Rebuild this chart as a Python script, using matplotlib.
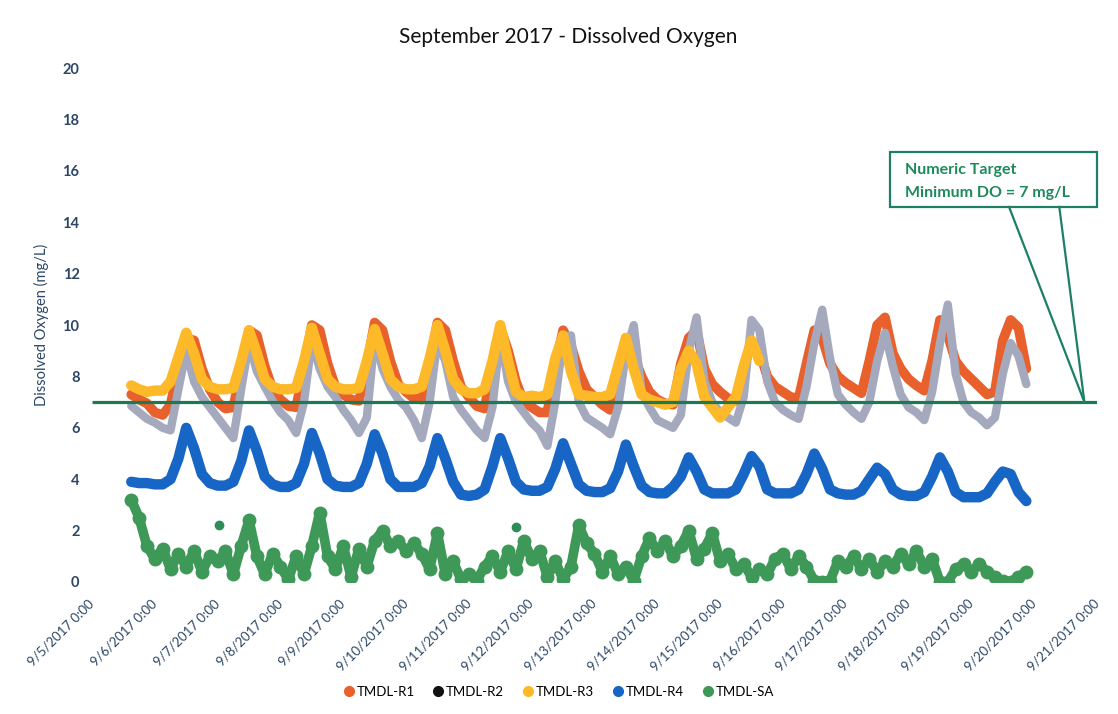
import matplotlib
matplotlib.use("Agg")
import matplotlib.pyplot as plt
import matplotlib.dates as mdates
from matplotlib.lines import Line2D
from matplotlib.patches import Rectangle
import pandas as pd

plt.rcParams["font.family"] = ["Lato", "DejaVu Sans"]

# 3-hourly sonde readings, 9/5/2017 15:00 through 9/19/2017 21:00
times = pd.date_range("2017-09-05 15:00", "2017-09-19 21:00", freq="3h")

r1 = [7.3, 7.1, 6.95,
      6.6, 6.5, 6.9, 8.3, 9.5, 9.4, 8.3, 7.5,
      7.0, 6.75, 6.8, 8.3, 9.8, 9.6, 8.4, 7.5,
      7.1, 6.85, 6.8, 8.3, 10.0, 9.8, 8.5, 7.6,
      7.3, 7.1, 7.05, 8.4, 10.1, 9.8, 8.6, 7.7,
      7.4, 7.15, 7.1, 8.5, 10.1, 9.8, 8.6, 7.6,
      7.2, 6.85, 6.75, 8.4, 9.9, 9.0, 7.8, 7.0,
      6.8, 6.6, 6.6, 8.4, 9.8, 9.2, 8.2, 7.5,
      7.2, 6.9, 6.7, 8.2, 9.5, 8.8, 8.0, 7.4,
      7.1, 6.95, 6.9, 8.5, 9.5, 9.8, 8.3, 7.7,
      7.4, 7.15, 7.05, 8.3, 9.4, 9.0, 8.0, 7.6,
      7.4, 7.2, 7.15, 8.5, 9.8, 9.5, 8.5, 8.0,
      7.75, 7.55, 7.35, 8.6, 10.0, 10.3, 8.9, 8.3,
      7.9, 7.65, 7.45, 8.6, 10.2, 9.6, 8.6, 8.2,
      7.9, 7.6, 7.3, 7.4, 9.4, 10.2, 9.9, 8.3]

r2 = [6.85, 6.6, 6.35,
      6.2, 6.0, 5.9, 7.5, 9.0, 7.8, 7.2, 6.8,
      6.4, 6.0, 5.6, 7.5, 9.3, 8.2, 7.6, 7.05,
      6.6, 6.3, 5.8, 7.0, 9.4, 8.3, 7.6, 7.2,
      6.7, 6.3, 5.8, 6.4, 9.5, 8.3, 7.6, 7.1,
      6.8, 6.3, 5.6, 7.0, 9.4, 8.6, 7.2, 6.7,
      6.3, 5.9, 5.6, 6.8, 9.6, 7.8, 7.0, 6.6,
      6.2, 5.9, 5.3, 7.0, 9.5, 9.6, 7.0, 6.4,
      6.2, 6.0, 5.75, 6.8, 8.9, 10.0, 7.4, 6.8,
      6.3, 6.15, 6.0, 6.5, 9.0, 10.3, 7.8, 7.0,
      6.6, 6.4, 6.2, 7.2, 10.2, 9.8, 7.8, 7.0,
      6.7, 6.5, 6.35, 7.6, 9.3, 10.6, 8.7, 7.3,
      6.9, 6.6, 6.35, 7.0, 8.6, 9.7, 8.4, 7.3,
      6.8, 6.6, 6.3, 7.4, 9.3, 10.8, 8.1, 7.0,
      6.6, 6.4, 6.1, 6.4, 8.1, 9.3, 8.8, 7.7]

# R3 stopped logging on 9/15 15:00
r3 = [7.65, 7.5, 7.4,
      7.45, 7.45, 7.8, 8.75, 9.7, 8.9, 7.9, 7.6,
      7.5, 7.5, 7.55, 8.6, 9.8, 8.9, 7.9, 7.6,
      7.5, 7.5, 7.55, 8.6, 9.9, 8.9, 7.9, 7.6,
      7.5, 7.5, 7.55, 8.6, 9.85, 8.9, 7.9, 7.6,
      7.5, 7.5, 7.6, 8.7, 10.0, 9.0, 7.9, 7.5,
      7.35, 7.35, 7.5, 8.6, 10.0, 8.6, 7.4, 7.2,
      7.25, 7.2, 7.3, 8.7, 9.6, 8.2, 7.3, 7.25,
      7.2, 7.2, 7.3, 8.4, 9.5, 8.3, 7.3, 7.1,
      7.0, 6.9, 7.0, 8.3, 9.0, 8.5, 7.2, 6.8,
      6.4, 6.8, 7.2, 8.4, 9.4, 8.6]

r4 = [3.9, 3.85, 3.85,
      3.8, 3.8, 4.0, 4.8, 6.0, 5.2, 4.2, 3.85,
      3.75, 3.75, 3.9, 4.7, 5.9, 5.1, 4.1, 3.8,
      3.7, 3.7, 3.85, 4.6, 5.8, 5.0, 4.0, 3.75,
      3.7, 3.7, 3.85, 4.6, 5.75, 5.0, 4.0, 3.7,
      3.7, 3.7, 3.85, 4.5, 5.6, 4.8, 3.9, 3.4,
      3.35, 3.4, 3.6, 4.5, 5.6, 4.8, 3.9, 3.6,
      3.55, 3.55, 3.7, 4.4, 5.4, 4.6, 3.8, 3.55,
      3.5, 3.5, 3.65, 4.3, 5.35, 4.5, 3.75, 3.5,
      3.45, 3.45, 3.7, 4.1, 4.85, 4.3, 3.6, 3.45,
      3.45, 3.45, 3.6, 4.2, 4.9, 4.5, 3.6, 3.45,
      3.45, 3.45, 3.6, 4.2, 5.0, 4.4, 3.6, 3.45,
      3.4, 3.4, 3.55, 4.0, 4.45, 4.2, 3.6, 3.4,
      3.35, 3.35, 3.5, 4.1, 4.85, 4.3, 3.5, 3.3,
      3.3, 3.3, 3.45, 3.9, 4.3, 4.2, 3.5, 3.15]

sa = [3.2, 2.5, 1.4,
      0.9, 1.3, 0.5, 1.1, 0.6, 1.2, 0.4, 1.0,
      0.8, 1.2, 0.3, 1.4, 2.4, 1.0, 0.3, 1.1,
      0.6, 0.1, 1.0, 0.3, 1.4, 2.7, 1.0, 0.5,
      1.4, 0.2, 1.3, 0.6, 1.6, 2.0, 1.4, 1.6,
      1.2, 1.5, 1.1, 0.5, 1.9, 0.3, 0.8, 0.1,
      0.3, 0.05, 0.6, 1.0, 0.4, 1.2, 0.5, 1.6,
      0.9, 1.2, 0.2, 0.8, 0.1, 0.6, 2.2, 1.5,
      1.1, 0.4, 1.0, 0.3, 0.6, 0.05, 1.0, 1.7,
      1.2, 1.6, 1.0, 1.4, 2.0, 0.9, 1.3, 1.9,
      0.8, 1.1, 0.5, 0.7, 0.2, 0.5, 0.3, 0.9,
      1.1, 0.5, 1.0, 0.6, 0.05, 0.0, 0.05, 0.8,
      0.6, 1.0, 0.5, 0.9, 0.4, 0.8, 0.6, 1.1,
      0.7, 1.2, 0.6, 0.9, 0.0, 0.0, 0.5, 0.7,
      0.4, 0.7, 0.4, 0.2, 0.05, 0.0, 0.2, 0.4]

# stray SA readings logged apart from the main record
sa_stray_times = pd.to_datetime(["2017-09-07 00:30", "2017-09-11 18:00"])
sa_stray_values = [2.2, 2.15]

series_names = ["TMDL-R1", "TMDL-R2", "TMDL-R3", "TMDL-R4", "TMDL-SA"]
line_colors = ["#E8602C", "#A4A9BD", "#FDB927", "#1766C6", "#3E9958"]
legend_colors = ["#E8602C", "#111111", "#FDB927", "#1766C6", "#3E9958"]

target_do = 7
x_start = pd.Timestamp("2017-09-05")
x_end = pd.Timestamp("2017-09-21")

fig = plt.figure(figsize=(11.18, 7.14), dpi=100)
ax = fig.add_axes([0.0823, 0.1849, 0.8989, 0.7196])

rj = dict(solid_capstyle="round", solid_joinstyle="round")
ax.plot(times[:len(r1)], r1, color=line_colors[0], lw=7.0, **rj)
ax.plot(times[:len(r2)], r2, color=line_colors[1], lw=6.0, **rj)
ax.plot(times[:len(r3)], r3, color=line_colors[2], lw=7.5, **rj)
ax.plot(times[:len(r4)], r4, color=line_colors[3], lw=7.5, **rj)
ax.plot(times[:len(sa)], sa, color=line_colors[4], lw=7.0, marker="o",
        ms=9, **rj)
ax.plot(sa_stray_times, sa_stray_values, ls="none", marker="o", ms=6,
        color="#2E8B5A")

# numeric target line
ax.plot([x_start, x_end], [target_do, target_do], color="#1C7A52", lw=2.3,
        solid_capstyle="butt")

ax.set_xlim(x_start, x_end)
ax.set_ylim(0, 20)
ax.set_yticks(range(0, 21, 2))
ax.xaxis.set_major_locator(mdates.DayLocator())


def fmt_date(val, pos):
    d = mdates.num2date(val)
    return f"{d.month}/{d.day}/{d.year} 0:00"


ax.xaxis.set_major_formatter(plt.FuncFormatter(fmt_date))
for s in ax.spines.values():
    s.set_visible(False)
ax.tick_params(axis="both", length=0)
ax.tick_params(axis="y", pad=9, labelsize=10.5, labelcolor="#2C4766")
ax.tick_params(axis="x", pad=14, labelsize=9.5, labelcolor="#2C4766")
for lab in ax.get_yticklabels():
    lab.set_fontweight("bold")
for lab in ax.get_xticklabels():
    lab.set_rotation(45)
    lab.set_ha("right")
    lab.set_va("center")
    lab.set_rotation_mode("anchor")

ax.set_ylabel("Dissolved Oxygen (mg/L)", fontsize=10.5, color="#2C4766",
              labelpad=10)

fig.text(0.508, 0.948, "September 2017 - Dissolved Oxygen", ha="center",
         va="center", fontsize=15, color="#111111")

# callout for the numeric target
box_color = "#1C7F66"
t0 = mdates.date2num(x_start)
box = Rectangle((t0 + 12.7, 14.6), 3.3, 2.15, facecolor="white",
                edgecolor=box_color, lw=1.6, clip_on=False, zorder=5)
ax.add_patch(box)
ax.plot([t0 + 14.6, t0 + 15.8], [14.6, 7.0], color=box_color, lw=1.6,
        zorder=5, clip_on=False)
ax.plot([t0 + 15.4, t0 + 15.8], [14.6, 7.0], color=box_color, lw=1.6,
        zorder=5, clip_on=False)
ax.text(t0 + 12.95, 16.05, "Numeric Target", color="#1E8A5C",
        fontsize=11.5, fontweight="bold", va="center", zorder=6)
ax.text(t0 + 12.95, 15.15, "Minimum DO = 7 mg/L", color="#1E8A5C",
        fontsize=11.5, fontweight="bold", va="center", zorder=6)

handles = [Line2D([], [], ls="none", marker="o", ms=7, color=c)
           for c in legend_colors]
fig.legend(handles, series_names, loc="center", ncol=5, frameon=False,
           bbox_to_anchor=(0.499, 0.031), fontsize=9.5, handletextpad=0.1,
           columnspacing=1.3, handlelength=1.0)

fig.savefig("out.png", dpi=100)
